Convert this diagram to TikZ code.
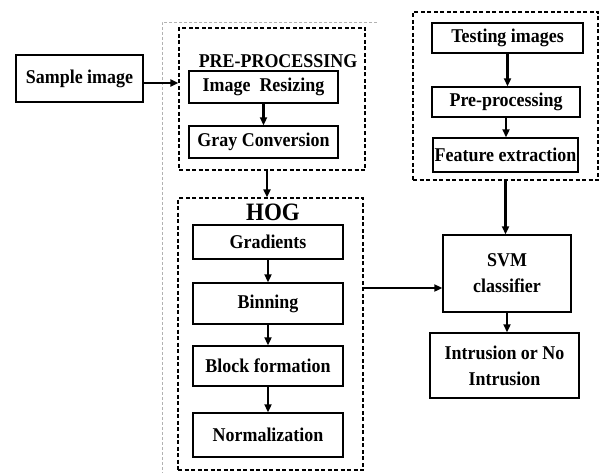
\documentclass[tikz,border=0pt]{standalone}
\usepackage{fontspec}
\setmainfont[FakeStretch=0.92]{Liberation Serif}
\usetikzlibrary{arrows.meta,calc}
\begin{document}
\begin{tikzpicture}[x=1pt,y=-1pt,
  txt/.style={font=\fontsize{19.5}{26}\selectfont\bfseries,align=center},
  box/.style={txt,draw,line width=1.4pt,inner sep=0pt},
  group/.style={draw,line width=1.3pt,inner sep=0pt,dash pattern=on 4pt off 2.5pt},
  arr/.style={-{Triangle[length=8pt,width=7pt]},line width=2.3pt},
  faint/.style={draw=black!30,densely dashed,line width=0.6pt}]
\useasboundingbox (0,0) rectangle (601,473);
% faint scan lines
\coordinate (f0) at (162,22);
\coordinate (f1) at (377,22);
\coordinate (f2) at (162,473);
\draw[faint] (f1) -- (f0) -- (f2);
% groups
\node[group,minimum width=186pt,minimum height=142pt] (pre) at (272,99) {};
\node[txt,anchor=base] (pretitle) at (278,68) {PRE-PROCESSING};
\node[group,minimum width=185pt,minimum height=272pt] (hog) at (270.5,334) {};
\node[txt,anchor=base,font=\fontsize{25}{28}\selectfont\bfseries] (hogtitle) at (273,220) {HOG};
\node[group,minimum width=185pt,minimum height=168pt] (test) at (505.5,96) {};
% boxes
\node[box,minimum width=127pt,minimum height=47pt] (sample) at (79.5,78.5) {Sample image};
\node[box,minimum width=149pt,minimum height=32pt] (ir) at (263.5,87) {Image\ \ Resizing};
\node[box,minimum width=149pt,minimum height=32pt] (gc) at (263.5,142) {Gray Conversion};
\node[box,minimum width=150pt,minimum height=34pt] (grad) at (268,242) {Gradients};
\node[box,minimum width=150pt,minimum height=41pt] (bin) at (268,303.5) {Binning};
\node[box,minimum width=150pt,minimum height=40pt] (block) at (268,366) {Block formation};
\node[box,minimum width=150pt,minimum height=44pt] (norm) at (268,435) {Normalization};
\node[box,minimum width=151pt,minimum height=30pt] (ti) at (507.5,38) {Testing images};
\node[box,minimum width=148pt,minimum height=30pt] (pp) at (506,102) {Pre-processing};
\node[box,minimum width=145pt,minimum height=34pt] (fe) at (505.5,155) {Feature extraction};
\node[box,minimum width=128pt,minimum height=77pt] (svm) at (507,273.5) {SVM\\classifier};
\node[box,minimum width=149pt,minimum height=65pt] (intr) at (504.5,365.5) {Intrusion or No\\Intrusion};
% arrows
\coordinate (s1) at ($(sample.east)+(0,4.5)$);
\draw[arr] (s1) -- (s1 -| pre.west);
\draw[arr] (ir.south) -- (gc.north);
\coordinate (p1) at ($(pre.south)+(-5,0)$);
\draw[arr] (p1) -- (p1 |- hog.north);
\draw[arr] (grad.south) -- (bin.north);
\draw[arr] (bin.south) -- (block.north);
\draw[arr] (block.south) -- (norm.north);
\draw[arr] (ti.south) -- (ti.south |- pp.north);
\draw[arr] (pp.south) -- (pp.south |- fe.north);
\draw[arr] (test.south) -- (test.south |- svm.north);
\coordinate (h1) at (363,288);
\draw[arr] (h1) -- (h1 -| svm.west);
\draw[arr] (svm.south) -- (svm.south |- intr.north);
\end{tikzpicture}
\end{document}
